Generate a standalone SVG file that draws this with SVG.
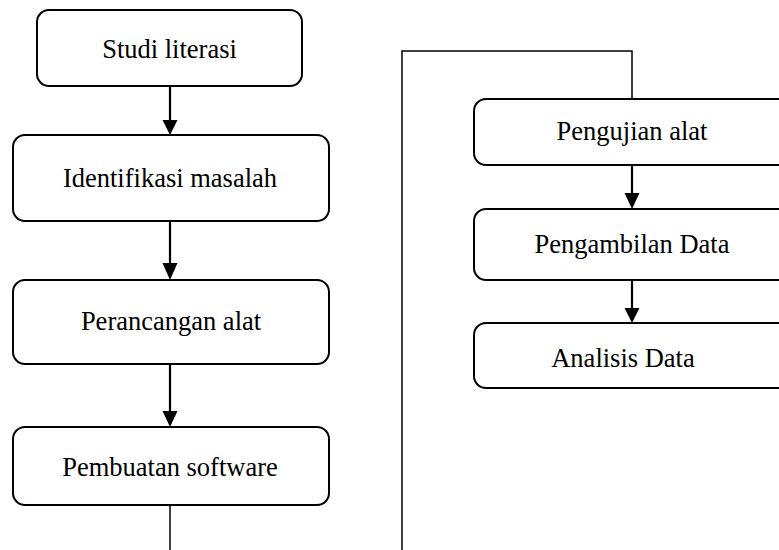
<svg xmlns="http://www.w3.org/2000/svg" width="779" height="550" viewBox="0 0 779 550">
<style>
.box{fill:#fff;stroke:#000;stroke-width:2}
.lbl{font-family:"Liberation Serif","Times New Roman",serif;font-size:26.5px;fill:#000;text-anchor:middle}
.arr{stroke:#000;stroke-width:2.2;fill:none}
.ln{stroke:#000;stroke-width:1.5;fill:none}
.head{fill:#000}
</style>
<rect width="779" height="550" fill="#fff"/>
<g id="connectors">
<line class="arr" x1="170" y1="86" x2="170" y2="121"/>
<polygon class="head" points="162.5,120 177.5,120 170,135"/>
<line class="arr" x1="170" y1="221" x2="170" y2="264"/>
<polygon class="head" points="162.5,263 177.5,263 170,280"/>
<line class="arr" x1="170" y1="364" x2="170" y2="412"/>
<polygon class="head" points="162.5,411 177.5,411 170,427"/>
<line class="ln" x1="170" y1="505" x2="170" y2="550"/>
<polyline class="ln" points="402,550 402,51 632,51 632,99"/>
<line class="arr" x1="632" y1="165" x2="632" y2="194"/>
<polygon class="head" points="624.5,193 639.5,193 632,209"/>
<line class="arr" x1="632" y1="280" x2="632" y2="309"/>
<polygon class="head" points="624.5,308 639.5,308 632,323"/>
</g>
<g id="studi-literasi">
<rect class="box" x="37" y="10" width="265" height="76" rx="12"/>
<text class="lbl" x="169.5" y="58">Studi literasi</text>
</g>
<g id="identifikasi-masalah">
<rect class="box" x="13" y="135" width="316" height="86" rx="12"/>
<text class="lbl" x="170" y="187">Identifikasi masalah</text>
</g>
<g id="perancangan-alat">
<rect class="box" x="13" y="280" width="316" height="84" rx="12"/>
<text class="lbl" x="171" y="330">Perancangan alat</text>
</g>
<g id="pembuatan-software">
<rect class="box" x="13" y="427" width="316" height="78" rx="12"/>
<text class="lbl" x="170" y="476">Pembuatan software</text>
</g>
<g id="pengujian-alat">
<rect class="box" x="474" y="99" width="318" height="66" rx="12"/>
<text class="lbl" x="632" y="140">Pengujian alat</text>
</g>
<g id="pengambilan-data">
<rect class="box" x="474" y="209" width="318" height="71" rx="12"/>
<text class="lbl" x="632" y="253">Pengambilan Data</text>
</g>
<g id="analisis-data">
<rect class="box" x="474" y="323" width="318" height="65" rx="12"/>
<text class="lbl" x="623" y="367">Analisis Data</text>
</g>
</svg>
